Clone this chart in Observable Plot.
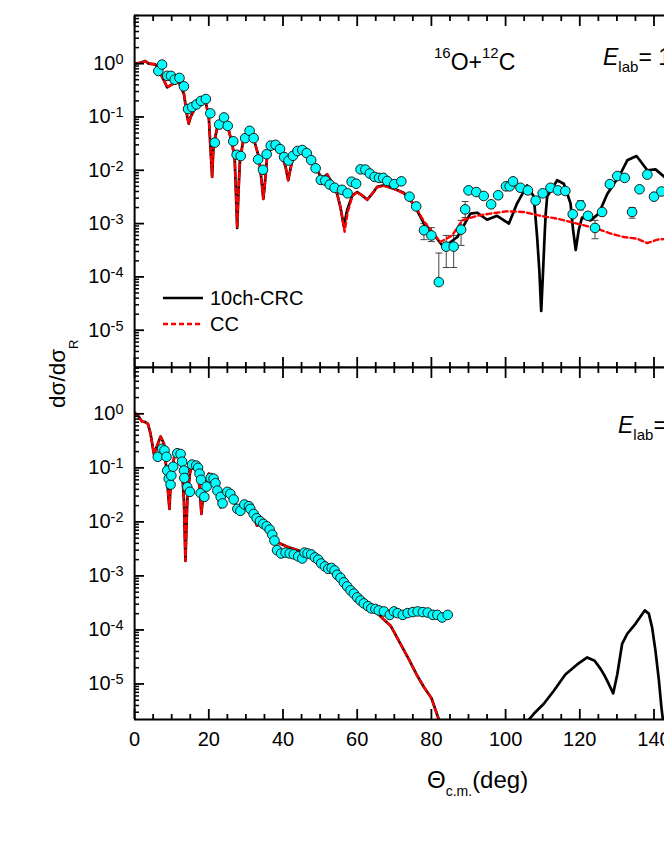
<!DOCTYPE html>
<html><head><meta charset="utf-8">
<script src="https://cdn.jsdelivr.net/npm/d3@7"></script>
<script src="https://cdn.jsdelivr.net/npm/@observablehq/plot@0.6"></script>
<style>
html,body{margin:0;padding:0;background:#fff;}
body{width:664px;height:860px;overflow:hidden;position:relative;font-family:"Liberation Sans",Arial,sans-serif;}
#top,#bot{position:absolute;left:0;}
#top{top:0}
#bot{top:366px}
#ann{position:absolute;left:0;top:0;pointer-events:none;font-family:"Liberation Sans",Arial,sans-serif;}
</style></head><body>
<div id="top"></div><div id="bot"></div>
<svg id="ann" width="664" height="860">
  <line x1="163" y1="298" x2="203" y2="298" stroke="#000" stroke-width="2.6"/>
  <text x="210" y="305" font-size="20">10ch-CRC</text>
  <line x1="163" y1="324" x2="203" y2="324" stroke="#f00" stroke-width="2.6" stroke-dasharray="5,3"/>
  <text x="210" y="331" font-size="20">CC</text>
  <text x="434" y="69.5" font-size="23"><tspan font-size="15" dy="-12">16</tspan><tspan dy="12">O+</tspan><tspan font-size="15" dy="-12">12</tspan><tspan dy="12">C</tspan></text>
  <text x="603" y="64.5" font-size="23" style="white-space:pre"><tspan font-style="italic">E</tspan><tspan font-size="15" dy="7">lab</tspan><tspan dy="-7">= 132 MeV</tspan></text>
  <text x="618" y="432.5" font-size="23" style="white-space:pre"><tspan font-style="italic">E</tspan><tspan font-size="15" dy="7">lab</tspan><tspan dy="-7">= 300 MeV</tspan></text>
  <text transform="translate(65,408) rotate(-90)" font-size="22.5">dσ/dσ<tspan font-size="13" dy="13">R</tspan></text>
  <text x="427" y="788" font-size="24">Θ<tspan font-size="14" dy="8">c.m.</tspan><tspan dy="-8">(deg)</tspan></text>
</svg>
<script>
// ---------- data ----------
// Top panel: measured points [theta_cm (deg), dsigma/dsigma_R]
const topPoints = [
  [6.4,0.73],[7.4,0.96],[8.8,0.59],[9.8,0.59],[10.8,0.50],[12.1,0.54],[13.3,0.375],[14.4,0.141],
  [15.5,0.153],[16.7,0.172],[17.9,0.20],[19.2,0.217],[20.4,0.117],[21.6,0.033],[22.8,0.072],[24.1,0.098],
  [25.1,0.068],[26.6,0.035],[27.5,0.0196],[28.6,0.0185],[29.8,0.040],[31.0,0.055],[32.1,0.040],[33.3,0.016],
  [34.6,0.0102],[35.6,0.020],[36.7,0.029],[38.0,0.030],[39.2,0.025],[40.3,0.0177],[41.5,0.0152],[42.7,0.0187],
  [43.9,0.023],[45.2,0.024],[46.4,0.021],[47.6,0.0155],[48.8,0.0109],[50.2,0.0066],[51.4,0.0064],[52.6,0.0054],
  [53.9,0.0047],[55.9,0.0043],[57.4,0.0037],[58.5,0.0061],[59.7,0.0056],[60.9,0.0104],[62.2,0.0103],[63.4,0.0087],
  [64.7,0.0075],[65.9,0.0072],[67.0,0.0072],[68.1,0.0063],[70.0,0.0055],[71.9,0.0062],[74.1,0.0032],[75.9,0.0021],
  [78.0,0.00075],[80.0,0.0006],[82.0,0.00008],[84.0,0.00037],[86.0,0.00037],[88.0,0.00077],[89.1,0.00185],[90.0,0.0042],
  [92.1,0.0039],[94.1,0.0033],[96.1,0.0023],[98.0,0.0034],[100.1,0.0050],[101.1,0.0050],[102.0,0.0062],[104.0,0.0047],
  [106.0,0.0042],[108.1,0.0027],[110.0,0.0037],[112.1,0.0047],[114.1,0.0042],[116.1,0.0041],[118.1,0.0015],[120.2,0.0022],
  [122.2,0.0014],[124.1,0.00083],[126.0,0.00165],[128.1,0.0055],[130.1,0.0078],[132.1,0.0072],[134.1,0.00165],[136.1,0.0044],
  [138.2,0.0083],[140.0,0.0032],[142.0,0.0040]
];
// Top panel error bars [theta, low, high]
const topErrors = [
  [78.0,5.0e-4,1.0e-3],[80.0,4.6e-4,8.4e-4],[82.0,8e-5,2.8e-4],[84.0,1.5e-4,6.0e-4],[86.0,1.5e-4,6.0e-4],
  [88.0,3.9e-4,1.15e-3],[89.1,1.3e-3,2.6e-3],[120.2,1.8e-3,2.7e-3],[124.1,5.2e-4,1.15e-3],[134.1,1.26e-3,2.0e-3]
];
// Top panel 10ch-CRC curve
const topCRC = [
  [0,1.0],[1.6,1.04],[2.9,1.12],[3.8,1.0],[5.6,0.97],[7.0,0.65],[8.8,0.36],[10.1,0.41],[11.9,0.45],[13.3,0.27],
  [14.2,0.1],[14.6,0.075],[15.1,0.1],[16.0,0.133],[17.8,0.18],[19.1,0.2],[20.0,0.1],[20.5,0.023],[20.9,0.0075],[21.2,0.023],
  [21.4,0.032],[22.4,0.07],[23.6,0.1],[25.0,0.07],[26.3,0.032],[27.0,0.0154],[27.3,0.004],[27.65,0.00083],[28.0,0.004],[28.4,0.0154],
  [29.3,0.037],[30.8,0.055],[32.1,0.039],[33.5,0.0177],[34.2,0.0065],[34.7,0.0029],[35.2,0.0065],[35.7,0.0177],[37.1,0.029],[37.9,0.032],
  [39.3,0.024],[40.7,0.0115],[41.4,0.0065],[42.0,0.0105],[42.5,0.0154],[43.8,0.024],[44.7,0.026],[46.5,0.022],[48.3,0.0133],[50.1,0.0078],
  [51.0,0.0075],[51.9,0.0084],[52.8,0.0065],[54.6,0.0036],[55.5,0.002],[56.4,0.00089],[57.3,0.0018],[58.7,0.0034],[60.0,0.0039],[61.3,0.0034],
  [62.7,0.0028],[64.0,0.0036],[65.4,0.0049],[67.2,0.0052],[69.9,0.0045],[72.5,0.0038],[75.3,0.0023],[78.0,0.001],[80.5,0.00065],[83.3,0.00036],
  [87.0,0.00056],[90.5,0.00154],[92.3,0.0016],[95.0,0.00118],[97.7,0.0014],[100.9,0.001],[103.1,0.0024],[105.8,0.0052],[107.6,0.0032],[108.5,0.00056],
  [109.1,0.00013],[109.6,0.000023],[110.1,0.00013],[110.5,0.00056],[110.8,0.0015],[111.2,0.0032],[113.9,0.0065],[115.7,0.0056],[117.5,0.0024],[118.2,0.00075],
  [118.9,0.00032],[119.7,0.00075],[120.6,0.0013],[122.9,0.00115],[125.1,0.00154],[127.4,0.0036],[131.0,0.0087],[132.8,0.0154],[135.3,0.0185],[138.2,0.01],
  [140.4,0.0104],[142.8,0.0075],[144.0,0.006]
];
// Top panel CC curve
const topCC = [
  [0,1.0],[1.6,1.04],[2.9,1.12],[3.8,1.0],[5.6,0.97],[7.0,0.65],[8.8,0.36],[10.1,0.41],[11.9,0.45],[13.3,0.27],
  [14.2,0.1],[14.6,0.075],[15.1,0.1],[16.0,0.133],[17.8,0.18],[19.1,0.2],[20.0,0.1],[20.5,0.023],[20.9,0.0075],[21.2,0.023],
  [21.4,0.032],[22.4,0.07],[23.6,0.1],[25.0,0.07],[26.3,0.032],[27.0,0.0154],[27.3,0.004],[27.65,0.00083],[28.0,0.004],[28.4,0.0154],
  [29.3,0.037],[30.8,0.055],[32.1,0.039],[33.5,0.0177],[34.2,0.0065],[34.7,0.0029],[35.2,0.0065],[35.7,0.0177],[37.1,0.029],[37.9,0.032],
  [39.3,0.024],[40.7,0.0115],[41.4,0.0065],[42.0,0.0105],[42.5,0.0154],[43.8,0.024],[44.7,0.026],[46.5,0.022],[48.3,0.0133],[50.1,0.0078],
  [51.0,0.0075],[51.9,0.0084],[52.8,0.0065],[54.6,0.0036],[55.5,0.002],[56.6,0.0007],[57.4,0.0016],[58.7,0.0033],[60.0,0.0039],[61.3,0.0034],
  [62.7,0.0028],[64.0,0.0036],[65.4,0.0048],[67.2,0.0051],[69.9,0.0045],[72.5,0.0037],[75.3,0.0023],[78.0,0.0011],[80.5,0.00065],[82.4,0.00045],
  [85.6,0.0006],[88.3,0.00115],[92.3,0.0014],[95.9,0.00154],[100.4,0.0017],[104.9,0.00165],[109.4,0.0014],[113.9,0.00124],[119.3,0.001],[124.7,0.0008],
  [128.3,0.00065],[131.9,0.00056],[135.5,0.00052],[138.2,0.00043],[140.9,0.0005],[144.0,0.00052]
];
// Bottom panel: measured points
const botPoints = [
  [6.25,0.16],[7.4,0.225],[8.06,0.21],[8.6,0.16],[8.8,0.089],[9.2,0.063],[9.7,0.049],[9.9,0.072],[10.4,0.105],[11.5,0.186],
  [12.4,0.18],[12.8,0.13],[13.3,0.089],[13.4,0.065],[14.2,0.044],[14.9,0.036],[15.5,0.115],[16.6,0.11],[17.1,0.10],[17.5,0.078],
  [17.9,0.06],[17.8,0.034],[18.8,0.029],[19.4,0.045],[20.5,0.065],[21.3,0.063],[21.8,0.052],[22.3,0.038],[23.2,0.029],[23.7,0.022],
  [25.0,0.036],[25.8,0.033],[26.7,0.026],[27.7,0.0174],[28.5,0.016],[29.6,0.021],[30.8,0.0195],[31.2,0.0174],[32.1,0.014],[32.9,0.0117],
  [33.8,0.0103],[34.7,0.0092],[35.6,0.0083],[36.4,0.0072],[37.1,0.0058],[37.7,0.0045],[38.4,0.0030],[39.5,0.0026],[40.7,0.0027],[41.8,0.0026],
  [42.9,0.0025],[44.1,0.0023],[45.2,0.0021],[45.8,0.0027],[46.6,0.0026],[47.6,0.0025],[48.6,0.0022],[49.5,0.0020],[50.3,0.0017],[51.3,0.0015],
  [52.2,0.00135],[53.1,0.0014],[53.9,0.00126],[54.6,0.00105],[55.5,0.00092],[56.4,0.00076],[57.3,0.00064],[58.2,0.00054],[59.1,0.00047],[60.0,0.00040],
  [60.9,0.00035],[61.8,0.00031],[62.9,0.000275],[63.8,0.00025],[64.9,0.000245],[65.8,0.00023],[67.2,0.00022],[68.8,0.00019],[69.9,0.00022],[70.9,0.000204],
  [72.3,0.00019],[73.6,0.000205],[75.0,0.000214],[76.3,0.00022],[77.7,0.000214],[79.0,0.00021],[80.4,0.00019],[81.6,0.00019],[82.9,0.00017],[84.4,0.00019]
];
// Bottom panel curve (10ch-CRC and CC coincide up to ~83 deg)
const botForward = [
  [0,1.05],[1.1,0.89],[2.0,0.72],[2.9,0.70],[3.6,0.65],[4.3,0.43],[5.2,0.18],[6.1,0.26],[7.0,0.38],[7.9,0.28],
  [8.6,0.089],[9.05,0.033],[9.4,0.0174],[9.6,0.035],[10.1,0.078],[10.75,0.177],[11.5,0.22],[12.2,0.18],[12.8,0.089],[13.3,0.025],
  [13.7,0.0019],[14.2,0.025],[14.9,0.078],[15.5,0.118],[16.4,0.11],[17.3,0.058],[17.7,0.03],[18.0,0.014],[18.4,0.028],[18.7,0.044],
  [20.0,0.078],[21.3,0.058],[22.7,0.025],[23.2,0.0186],[24.5,0.035],[25.8,0.033],[27.7,0.0186],[29.0,0.019],[30.8,0.0186],[32.0,0.013],
  [33.0,0.0085],[33.9,0.0098],[35.7,0.0075],[37.5,0.0045],[39.8,0.0038],[42.0,0.0033],[43.8,0.003],[45.6,0.0027],[48.0,0.0023],[50.0,0.0018],
  [52.0,0.0014],[54.0,0.0012],[56.0,0.00085],[58.0,0.00056],[60.0,0.0004],[62.0,0.00031],[64.0,0.00025],[65.4,0.000205],[67.0,0.00016],[69.0,0.00012],
  [72.0,0.00005],[74.0,0.000028],[76.0,0.000015],[78.0,0.0000087],[80.0,0.0000055],[82.0,0.0000022],[83.0,0.0000012]
];
// Bottom panel 10ch-CRC backward-angle part
const botBackward = [
  [104.5,0.000001],[105.8,0.000002],[108.0,0.000003],[110.3,0.0000043],[113.0,0.0000075],[116.1,0.000015],[119.3,0.000023],[122.0,0.000031],
  [124.0,0.000027],[125.6,0.000019],[126.5,0.000015],[127.8,0.00001],[129.0,0.0000067],[130.1,0.000015],[131.4,0.000055],[132.8,0.000085],
  [135.0,0.00013],[137.5,0.00023],[138.6,0.0002],[139.5,0.00011],[140.4,0.000041],[141.3,0.000012],[142.0,0.0000037],[143.0,0.000001]
];
// axis ticks
const xMajorTicks = [0,20,40,60,80,100,120,140,160,180];
const decadeExponents = [-5,-4,-3,-2,-1,0];
const topYDomain = [2e-6, 8];
const botYDomain = [2.2e-6, 7.2];

// ---------- helpers ----------
const FONT = '"Liberation Sans", Arial, sans-serif';
const toObj = a => a.map(d => ({theta: d[0], v: d[1]}));
const xMinorTicks = d3.range(0, 181, 5).filter(d => d % 20 !== 0);
const yMajorTicks = decadeExponents.map(e => Math.pow(10, e));
const capSymbol = {draw(ctx, size) { const w = Math.sqrt(size / Math.PI); ctx.moveTo(-w, 0); ctx.lineTo(w, 0); }};

function minorY(domain) {
  const out = [];
  for (let e = -7; e <= 1; e++) for (let m = 2; m <= 9; m++) {
    const v = m * Math.pow(10, e);
    if (v >= domain[0] && v <= domain[1]) out.push(v);
  }
  return out;
}

function frameAndAxes(yDomain, withXLabels) {
  const marks = [
    Plot.ruleX([0], {strokeWidth: 2}),
    Plot.ruleY([yDomain[1]], {strokeWidth: 2}),
    Plot.ruleY([yDomain[0]], {strokeWidth: 2}),
    Plot.axisX({anchor: "bottom", ticks: xMajorTicks, tickSize: -10, tickFormat: () => "", label: null, strokeWidth: 1.8}),
    Plot.axisX({anchor: "bottom", ticks: xMinorTicks, tickSize: -5, tickFormat: () => "", label: null, strokeWidth: 1.8}),
    Plot.axisX({anchor: "top", ticks: xMajorTicks, tickSize: -10, tickFormat: () => "", label: null, strokeWidth: 1.8}),
    Plot.axisX({anchor: "top", ticks: xMinorTicks, tickSize: -5, tickFormat: () => "", label: null, strokeWidth: 1.8}),
    Plot.axisY({anchor: "left", ticks: yMajorTicks, tickSize: -10, tickFormat: () => "", label: null, strokeWidth: 1.8}),
    Plot.axisY({anchor: "left", ticks: minorY(yDomain), tickSize: -5, tickFormat: () => "", label: null, strokeWidth: 1.5}),
    Plot.axisY({anchor: "left", ticks: yMajorTicks, tickSize: 0, tickPadding: 11, label: null, fontSize: 20,
      tickFormat: d => "10^" + Math.round(Math.log10(d))})
  ];
  if (withXLabels) marks.push(Plot.axisX({anchor: "bottom", ticks: xMajorTicks, tickSize: 0, tickPadding: 12, label: null, fontSize: 20, tickFormat: d => String(d)}));
  return marks;
}

function superscripts(svg) {
  d3.select(svg).selectAll('g[aria-label="y-axis tick label"] text').each(function() {
    const t = this.textContent;
    if (!t.includes("^")) return;
    const [base, exp] = t.split("^");
    const s = d3.select(this);
    s.text(null);
    s.append("tspan").text(base);
    s.append("tspan").attr("dy", "-0.42em").attr("font-size", "14.5px").text(exp);
  });
}

const common = {
  width: 664, marginLeft: 134, marginRight: 0,
  style: {fontFamily: FONT, fontSize: "20px", background: "transparent", color: "#000", overflow: "hidden"},
  x: {domain: [0, 180], range: [134.1, 801.9], label: null}
};

const lineBlack = {x: "theta", y: "v", stroke: "#000", strokeWidth: 2.7, clip: true};
const lineRed = {x: "theta", y: "v", stroke: "#f00", strokeWidth: 2.4, strokeDasharray: "5,3.2", clip: true};

const topPlot = Plot.plot({
  ...common,
  height: 368, marginTop: 15, marginBottom: 1,
  y: {type: "log", domain: topYDomain, label: null},
  marks: [
    Plot.ruleX(topErrors, {x: d => d[0], y1: d => d[1], y2: d => d[2], stroke: "#444", strokeWidth: 1}),
    Plot.dot(topErrors.flatMap(d => [{theta: d[0], v: d[1]}, {theta: d[0], v: d[2]}]), {x: "theta", y: "v", symbol: capSymbol, r: 3.5, stroke: "#444", fill: "none", strokeWidth: 1}),
    Plot.line(toObj(topCRC), lineBlack),
    Plot.line(toObj(topCC), lineRed),
    Plot.dot(toObj(topPoints), {x: "theta", y: "v", r: 4.8, fill: "#00ffff", stroke: "#1a1a1a", strokeWidth: 1}),
    ...frameAndAxes(topYDomain, false)
  ]
});
superscripts(topPlot);
document.getElementById("top").appendChild(topPlot);

const botPlot = Plot.plot({
  ...common,
  height: 494, marginTop: 1, marginBottom: 141,
  y: {type: "log", domain: botYDomain, label: null},
  marks: [
    Plot.line(toObj(botForward), lineBlack),
    Plot.line(toObj(botBackward), lineBlack),
    Plot.line(toObj(botForward), lineRed),
    Plot.dot(toObj(botPoints), {x: "theta", y: "v", r: 4.8, fill: "#00ffff", stroke: "#1a1a1a", strokeWidth: 1}),
    ...frameAndAxes(botYDomain, true)
  ]
});
superscripts(botPlot);
document.getElementById("bot").appendChild(botPlot);
</script>
</body></html>
